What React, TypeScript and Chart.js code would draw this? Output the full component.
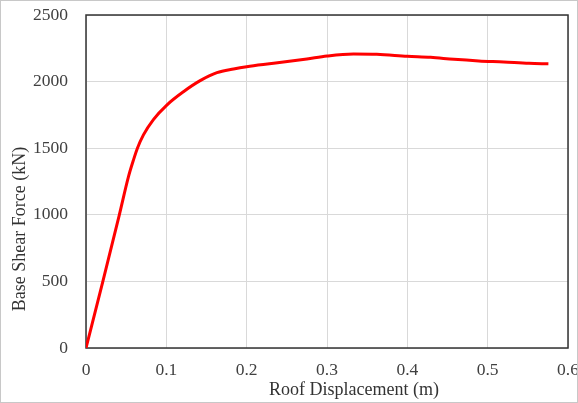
import React, { useEffect, useRef } from "react";
import { Chart, registerables } from "chart.js";

Chart.register(...registerables);

const displacement = [0, 0.021, 0.0415, 0.0528, 0.059, 0.064, 0.0715, 0.0839, 0.1006, 0.1213, 0.1421, 0.163, 0.1837, 0.2, 0.2336, 0.275, 0.3, 0.333, 0.362, 0.4, 0.429, 0.458, 0.489, 0.52, 0.5515, 0.5756];
const baseShear = [0, 500, 1000, 1285, 1410, 1500, 1600, 1715, 1824, 1924, 2007, 2067, 2095, 2112, 2137, 2170, 2192, 2207, 2205, 2190, 2182, 2167, 2155, 2147, 2137, 2134];

const xTicks = [0, 0.1, 0.2, 0.3, 0.4, 0.5, 0.6];
const yTicks = [0, 500, 1000, 1500, 2000, 2500];

const xTitle = "Roof Displacement (m)";
const yTitle = "Base Shear Force (kN)";

const FONT = "'Liberation Serif', 'Times New Roman', serif";

const framePlugin = {
  id: "frame",
  beforeDatasetsDraw(chart: any) {
    const { ctx, chartArea } = chart;
    ctx.save();
    ctx.strokeStyle = "#333333";
    ctx.lineWidth = 1.5;
    ctx.strokeRect(chartArea.left, chartArea.top, chartArea.right - chartArea.left, chartArea.bottom - chartArea.top);
    ctx.restore();
  },
  afterDraw(chart: any) {
    const { ctx, width, height } = chart;
    ctx.save();
    ctx.strokeStyle = "#c8c8c8";
    ctx.lineWidth = 1;
    ctx.strokeRect(0.5, 0.5, width - 1, height - 1);
    ctx.fillStyle = "#333333";
    ctx.font = `18px ${FONT}`;
    ctx.textAlign = "center";
    ctx.textBaseline = "alphabetic";
    ctx.fillText(xTitle, 354, 395);
    ctx.translate(25, 229);
    ctx.rotate(-Math.PI / 2);
    ctx.fillText(yTitle, 0, 0);
    ctx.restore();
  },
};

export default function App() {
  const ref = useRef<HTMLCanvasElement>(null);
  useEffect(() => {
    document.body.style.margin = "0";
    const data = displacement.map((x, i) => ({ x, y: baseShear[i] }));
    const chart = new Chart(ref.current!, {
      type: "scatter",
      data: {
        datasets: [
          {
            data,
            showLine: true,
            borderColor: "#ff0000",
            backgroundColor: "#ff0000",
            borderWidth: 3,
            pointRadius: 0,
            cubicInterpolationMode: "monotone",
          } as any,
        ],
      },
      options: {
        responsive: false,
        animation: false,
        layout: { padding: { left: 0, right: 10, top: 15, bottom: 0 } },
        plugins: { legend: { display: false }, tooltip: { enabled: false } },
        scales: {
          x: {
            type: "linear",
            min: 0,
            max: 0.6,
            afterBuildTicks: (s: any) => {
              s.ticks = xTicks.map((v) => ({ value: v }));
            },
            afterFit: (s: any) => {
              s.height = 55;
              s.paddingLeft = 0;
              s.paddingRight = 0;
            },
            ticks: {
              padding: 12,
              color: "#404040",
              font: { family: FONT, size: 17.5 },
              maxRotation: 0,
              autoSkip: false,
              callback: (v: any) => String(Number(Number(v).toFixed(1))),
            },
            grid: { color: "#d9d9d9", lineWidth: 1, drawTicks: false },
            border: { display: false },
            title: { display: false },
          },
          y: {
            type: "linear",
            min: 0,
            max: 2500,
            afterBuildTicks: (s: any) => {
              s.ticks = yTicks.map((v) => ({ value: v }));
            },
            afterFit: (s: any) => {
              s.width = 86;
              s.paddingTop = 0;
              s.paddingBottom = 0;
            },
            ticks: {
              padding: 18,
              color: "#404040",
              font: { family: FONT, size: 17.5 },
              autoSkip: false,
              callback: (v: any) => String(v),
            },
            grid: { color: "#d9d9d9", lineWidth: 1, drawTicks: false },
            border: { display: false },
            title: { display: false },
          },
        },
      },
      plugins: [framePlugin],
    });
    return () => chart.destroy();
  }, []);
  return (
    <div style={{ width: 578, height: 403 }}>
      <canvas ref={ref} width={578} height={403} style={{ display: "block" }} />
    </div>
  );
}
